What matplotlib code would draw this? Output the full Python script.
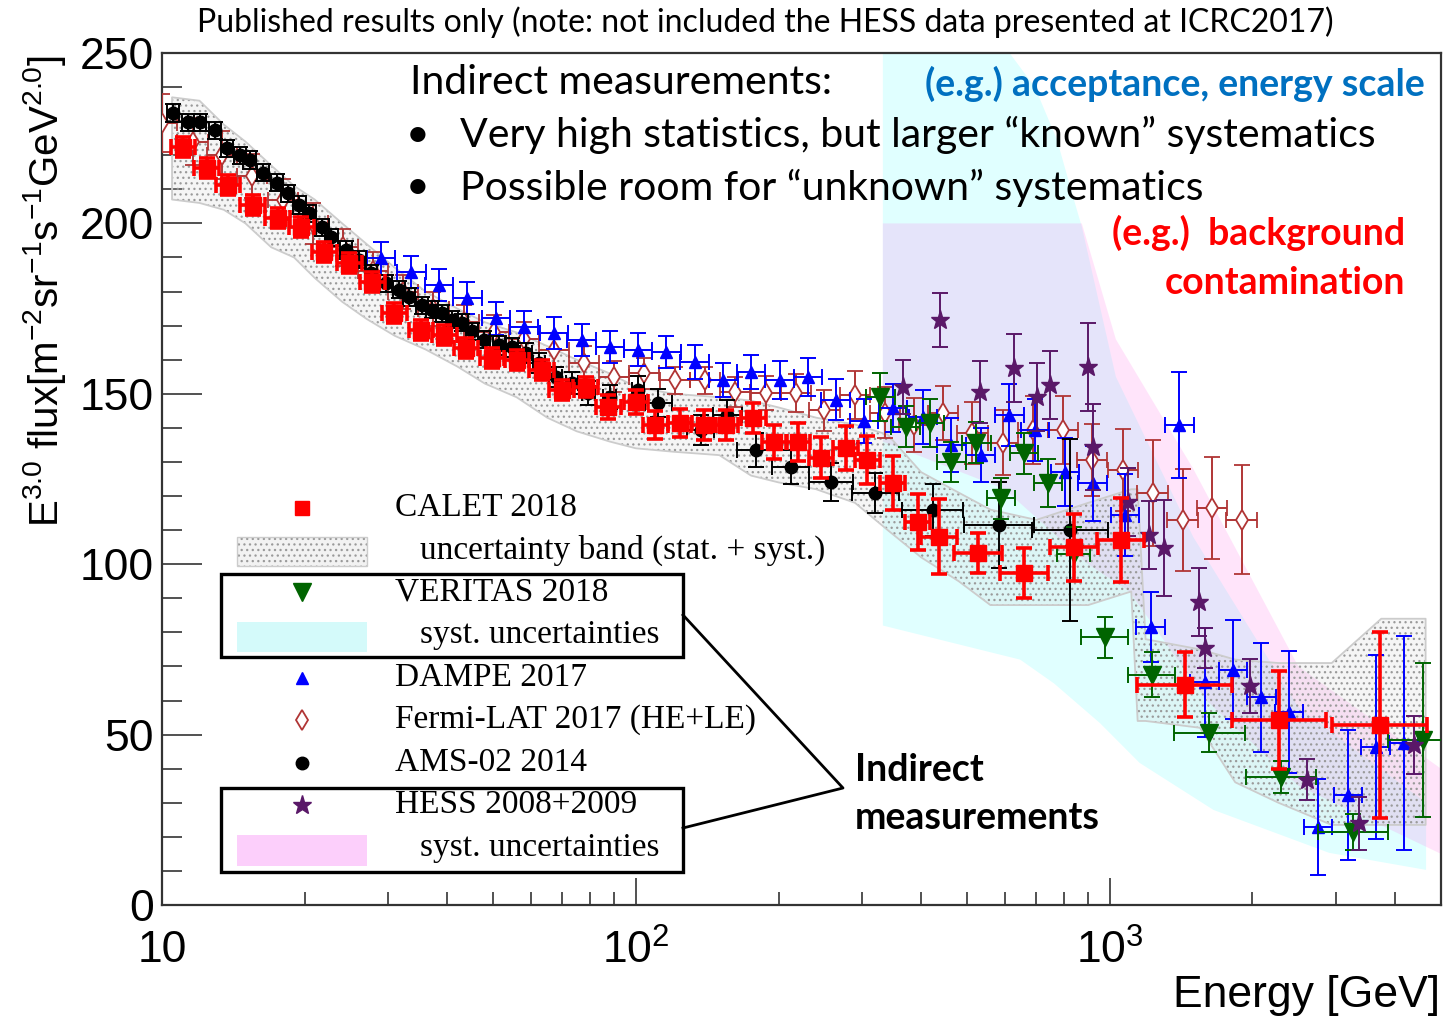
import numpy as np
import matplotlib
matplotlib.use("Agg")
import matplotlib.pyplot as plt
from matplotlib.patches import Rectangle
from matplotlib.lines import Line2D
from matplotlib.ticker import FixedLocator, FixedFormatter, NullFormatter, MultipleLocator

# Canvas size in pixels (dpi = 100)
W, H = 1448, 1018

plt.rcParams['font.family'] = ['Liberation Sans', 'DejaVu Sans']
plt.rcParams['mathtext.fontset'] = 'custom'
plt.rcParams['mathtext.rm'] = 'Liberation Sans'
plt.rcParams['mathtext.it'] = 'Liberation Sans:italic'
plt.rcParams['hatch.linewidth'] = 0.9

SLIDE_FONT = ['Lato', 'DejaVu Sans']
ROOT_FONT = ['Liberation Serif', 'DejaVu Serif']


def fx(px):
    return px / W


def fy(py):
    return 1.0 - py / H


# ---------------- data: energy [GeV], E^3 x flux ----------------
calet_e = [11.07, 12.43, 13.77, 15.53, 17.53, 19.68, 22.0, 24.85, 27.78, 30.9,
           35.2, 39.4, 43.8, 49.7, 56.1, 63.3, 69.7, 78.3, 87.5, 100,
           110, 124, 139, 155, 177, 196, 220, 246, 277, 308,
           348, 393, 437, 527, 659, 840, 1055, 1439, 2275, 3714]
calet_f = [222.4, 216.3, 211.3, 205.4, 201.6, 198.9, 191.6, 188.4, 182.8, 173.7,
           168.7, 167.3, 163.4, 160.5, 159.9, 157.0, 151.1, 152.0, 146.1, 147.6,
           140.8, 141.4, 140.8, 140.8, 142.9, 135.9, 135.9, 131.2, 134.1, 130.6,
           123.8, 112.4, 108.0, 103.3, 97.4, 105.0, 107.1, 64.6, 54.3, 52.8]
calet_ferr = [3, 3, 3, 3, 3, 3, 3, 3, 3, 3,
              3, 3, 3, 3, 3, 3, 3, 3, 3.5, 3.5,
              4.2, 4.2, 4.3, 4.4, 4.5, 5, 5.5, 6, 6.5, 7,
              8, 8.3, 11, 6, 7.3, 9.8, 12.2, 9.5, 14.4, 27.4]
calet_dex = [0.026] * 32 + [0.038, 0.05, 0.05, 0.05, 0.05, 0.1, 0.1, 0.1]

# CALET uncertainty band (stat. + syst.)
band_e = [10.5, 12, 13.5, 15, 17, 19, 21, 24, 27, 31,
          36, 42, 48, 56, 65, 75, 88, 100, 120, 150,
          175, 200, 240, 290, 340, 400, 480, 560, 700, 900,
          1110, 1145, 1190, 1550, 1840, 2270, 2940, 3740, 4640]
band_hi = [237, 236, 229, 224, 217, 211, 207, 200, 194, 187,
           180, 175, 171, 168, 164, 160, 156, 152, 150, 149,
           148, 146, 143, 141, 138, 127, 121, 116, 113, 118,
           122, 122, 78, 75, 72, 71, 71, 84, 84]
band_lo = [207, 206, 204, 200, 193, 190, 184, 177, 172, 167,
           163, 158, 153, 149, 143, 139, 136, 134, 133, 132,
           126, 124, 122, 118, 110, 102, 95, 88, 88, 88,
           92, 54, 54, 52, 36, 30, 23.5, 23.5, 23.5]

ams_e = [10.55, 11.34, 12.02, 12.93, 13.70, 14.59, 15.31, 16.31, 17.46, 18.41,
         19.50, 20.47, 21.81, 22.78, 24.49, 26.09, 27.65, 29.72, 31.66, 33.23,
         35.40, 37.1, 38.97, 40.9, 42.96, 45.1, 47.8, 51.4, 54.7, 58.6,
         62.4, 67.7, 73.2, 79.4, 88.0, 101, 111.5, 137, 156, 179,
         212, 258, 320, 423, 585, 824]
ams_f = [232.4, 229.7, 229.7, 227.4, 222.1, 220.0, 218.6, 214.8, 211.9, 208.9,
         205.4, 203.0, 198.9, 196.0, 192.2, 189.3, 185.4, 182.5, 180.5, 178.4,
         176.0, 174.6, 173.7, 171.7, 170.8, 168.3, 165.8, 164.3, 163.7, 162.0,
         159.0, 154.9, 153.2, 150.2, 149.0, 151.1, 147.3, 139.4, 143.8, 133.5,
         128.5, 124.1, 120.9, 115.9, 111.5, 110.0]
ams_ferr = [2.5, 2.5, 2.5, 2.5, 2.5, 2.5, 2.5, 2.5, 2.5, 2.5,
            2.5, 2.5, 2.5, 2.5, 2.5, 2.5, 2.5, 2.5, 2.5, 2.5,
            2.5, 2.5, 2.5, 2.5, 2.5, 2.5, 2.5, 2.8, 2.8, 3,
            3, 3, 3.2, 3.5, 3.5, 4, 4, 4.5, 4.5, 5,
            5, 5.5, 6, 7.5, 12.5, 26.7]
ams_dex = [0.013] * 36 + [0.028, 0.028, 0.03, 0.039, 0.04, 0.046, 0.05, 0.064, 0.074, 0.08]

dampe_e = [29.0, 33.6, 38.4, 44.1, 50.7, 58.0, 67.1, 76.8, 88.3, 101,
           116, 133, 153, 175, 201, 231, 264, 303, 349, 404,
           463, 534, 614, 696, 804, 920, 1076, 1220, 1403, 1585,
           1820, 2090, 2390, 2750, 3184, 3640, 4170]
dampe_f = [189.8, 185.7, 181.9, 178.1, 172.2, 169.6, 167.8, 165.8, 163.7, 162.9,
           162.3, 159.3, 154.0, 156.4, 154.0, 154.9, 148.2, 142.0, 145.8, 143.2,
           135.0, 132.0, 143.8, 139.4, 127.0, 123.8, 114.4, 81.6, 140.8, 65.4,
           69.0, 61.0, 56.6, 22.9, 32.3, 46.4, 47.5]
dampe_ferr = [4.8, 4.8, 4.8, 4.8, 4.8, 4.8, 4.8, 4.8, 4.8, 4.8,
              4.8, 5, 5, 5, 5.5, 5.5, 6, 6.5, 7, 8,
              8, 8, 9, 9, 10, 11, 12, 10.3, 15.6, 16,
              14.5, 16, 18, 14, 19, 27, 31.5]
dampe_dex = [0.03] * 37

fermi_e = [10.0, 11.6, 13.4, 15.5, 18.0, 20.8, 24.1, 27.9, 32.3, 37.4,
           43.3, 50.1, 58.0, 67.1, 77.7, 90.0, 104, 121, 140, 162,
           188, 218, 250, 290, 335, 387, 444, 513, 596, 689,
           797, 916, 1065, 1231, 1425, 1642, 1897]
fermi_f = [229.5, 224, 220, 214, 207, 200, 193, 186, 180, 175,
           171, 168, 166, 162.9, 159, 155, 156, 154, 154, 150.5,
           150.2, 150.2, 145.2, 149.6, 144.5, 140.8, 144.4, 138.5, 135.6, 139.4,
           139.4, 130.6, 127.6, 120.9, 113.0, 116.5, 113.0]
fermi_ferr = [8.5, 7, 7, 6.5, 6, 6, 5.5, 5.5, 5, 5,
              5, 5, 5, 5, 5, 4.5, 4.5, 4, 4, 4.5,
              5, 5.5, 6, 7, 7.5, 8, 8, 9, 9.5, 10,
              10, 10.5, 12, 15.5, 15, 15, 16]
fermi_dex = [0.032] * 37

veritas_e = [328, 371, 418, 463, 523, 590, 659, 741, 840, 975, 1225, 1623, 2300, 3262, 4590]
veritas_f = [149, 140.3, 141.4, 130, 135.6, 119.4, 132.6, 123.8, 103, 78.6, 67.5, 50.5, 37.6, 21.4, 48.4]
veritas_ferr = [7, 6, 7, 6, 6, 6, 6, 7, 8, 6, 6.6, 5.7, 4.7, 5.4, 22.7]
veritas_dex = [0.03, 0.03, 0.03, 0.03, 0.03, 0.03, 0.03, 0.03, 0.035, 0.05,
               0.05, 0.075, 0.074, 0.074, 0.074]

# VERITAS systematic band (upper and lower edges)
veritas_up_e = [332, 607, 695, 774, 840, 873, 1030, 1500, 2500, 4650]
veritas_up_f = [262, 251, 240, 224.5, 207, 199, 155, 108, 58, 30]
veritas_lo_e = [332, 647, 763, 953, 1156, 1655, 2904, 4650]
veritas_lo_f = [82, 72, 65, 53.4, 41.7, 27.9, 15.3, 10.3]

hess_e = [366, 439, 533, 629, 703, 748, 899, 921, 1091, 1209,
          1300, 1540, 1590, 1974, 2607, 3356, 4375]
hess_f = [152, 171.7, 150.5, 157.6, 149, 152.6, 157.9, 134.4, 118.2, 108.6,
          104.8, 88.9, 75.4, 64.3, 36.7, 24.0, 47.0]
hess_ferr = [8, 8, 9, 10, 10, 10, 13, 12.7, 10, 10,
             14, 10, 6, 8, 6, 7.8, 8.5]

# HESS systematic band (upper and lower edges)
hess_up_e = [332, 873, 1030, 1500, 2500, 5000]
hess_up_f = [200, 200, 166, 128, 70, 40]
hess_lo_e = [332, 600, 900, 1100, 1600, 2500, 5000]
hess_lo_f = [136, 122, 100, 92, 60, 35, 15]


def dex_err(e, d):
    e = np.asarray(e, float)
    d = np.asarray(d, float)
    return np.vstack([e - e / 10 ** d, e * 10 ** d - e])


fig = plt.figure(figsize=(W / 100, H / 100), dpi=100)
ax = fig.add_axes([fx(162), fy(905), fx(1441) - fx(162), fy(53) - fy(905)])
ax.set_xscale('log')

# systematic bands
ax.fill(np.r_[veritas_up_e, veritas_lo_e[::-1]], np.r_[veritas_up_f, veritas_lo_f[::-1]],
        color='#e0ffff', lw=0, zorder=1)
ax.fill(np.r_[hess_up_e, hess_lo_e[::-1]], np.r_[hess_up_f, hess_lo_f[::-1]],
        color='#ff64e6', alpha=0.17, lw=0, zorder=1.5)

# CALET stat+syst band: faint fill, stipple, outline
ax.fill_between(band_e, band_lo, band_hi, facecolor=(0.8, 0.8, 0.8, 0.18),
                edgecolor='none', zorder=2)
ax.fill_between(band_e, band_lo, band_hi, facecolor='none', edgecolor='#9a9a9a',
                hatch='...', linewidth=0, zorder=2.1)
ax.fill_between(band_e, band_lo, band_hi, facecolor='none', edgecolor='#cccccc',
                linewidth=1.3, zorder=2.2)

thin = dict(linestyle='none', elinewidth=1.4, capthick=1.4, capsize=6)

ax.errorbar(fermi_e, fermi_f, yerr=fermi_ferr, xerr=dex_err(fermi_e, fermi_dex),
            fmt='d', ms=10, mfc='white', mec='#b03535', mew=1.3, color='#b03535',
            zorder=4, **thin)
ax.errorbar(dampe_e, dampe_f, yerr=dampe_ferr, xerr=dex_err(dampe_e, dampe_dex),
            fmt='^', ms=9, color='#0000ff', zorder=5, **thin)
ax.errorbar(ams_e, ams_f, yerr=ams_ferr, xerr=dex_err(ams_e, ams_dex),
            fmt='o', ms=9, color='black', zorder=6, **thin)
ax.errorbar(veritas_e, veritas_f, yerr=veritas_ferr, xerr=dex_err(veritas_e, veritas_dex),
            fmt='v', ms=13, color='#006400', zorder=7, **thin)
ax.errorbar(hess_e, hess_f, yerr=hess_ferr, fmt='*', ms=14, color='#5a1868',
            zorder=8, **thin)
ax.errorbar(calet_e, calet_f, yerr=calet_ferr, xerr=dex_err(calet_e, calet_dex),
            fmt='s', ms=11, color='#ff0000', linestyle='none', elinewidth=2.6,
            capthick=2.6, capsize=6, zorder=9)

ax.set_xlim(10, 5000)
ax.set_ylim(0, 250)

ax.xaxis.set_major_locator(FixedLocator([10, 100, 1000]))
ax.xaxis.set_major_formatter(FixedFormatter(['10', r'$10^{2}$', r'$10^{3}$']))
ax.xaxis.set_minor_locator(FixedLocator([20, 30, 40, 50, 60, 70, 80, 90,
                                         200, 300, 400, 500, 600, 700, 800, 900,
                                         2000, 3000, 4000]))
ax.xaxis.set_minor_formatter(NullFormatter())
ax.yaxis.set_major_locator(MultipleLocator(50))
ax.yaxis.set_minor_locator(MultipleLocator(10))
ax.tick_params(axis='both', which='both', direction='in', top=False, right=False,
               color='#222222')
ax.tick_params(axis='x', which='major', length=19.5, width=1.1, labelsize=32, pad=18)
ax.tick_params(axis='x', which='minor', length=9.5, width=1.1)
ax.tick_params(axis='y', which='major', length=29, width=1.1, labelsize=32, pad=6)
ax.tick_params(axis='y', which='minor', length=14.5, width=1.1)
for s in ax.spines.values():
    s.set_linewidth(1.6)
    s.set_color('#333333')

fig.text(fx(45), fy(55), r'E$^{3.0}$ flux[m$^{-2}$sr$^{-1}$s$^{-1}$GeV$^{2.0}$]',
         rotation=90, ha='center', va='top', fontsize=29)
fig.text(fx(1440), fy(995), 'Energy [GeV]', ha='right', va='center', fontsize=32)

# slide annotations
fig.text(fx(765), fy(22), 'Published results only (note: not included the HESS data presented at ICRC2017)',
         ha='center', va='center', fontsize=23, family=SLIDE_FONT)
fig.text(fx(410), fy(82), 'Indirect measurements:', ha='left', va='center',
         fontsize=29.5, family=SLIDE_FONT)
for py, line in [(135, 'Very high statistics, but larger \u201cknown\u201d systematics'),
                 (188, 'Possible room for \u201cunknown\u201d systematics')]:
    fig.text(fx(418), fy(py), '\u2022', ha='center', va='center', fontsize=29.5,
             family=SLIDE_FONT)
    fig.text(fx(460), fy(py), line, ha='left', va='center', fontsize=29.5,
             family=SLIDE_FONT)
fig.text(fx(1425), fy(84), '(e.g.) acceptance, energy scale', ha='right', va='center',
         fontsize=27, fontweight='bold', color='#0070c0', family=SLIDE_FONT)
fig.text(fx(1405), fy(233), '(e.g.)  background', ha='right', va='center',
         fontsize=27, fontweight='bold', color='#ff0000', family=SLIDE_FONT)
fig.text(fx(1405), fy(283), 'contamination', ha='right', va='center',
         fontsize=27, fontweight='bold', color='#ff0000', family=SLIDE_FONT)
fig.text(fx(855), fy(770), 'Indirect', ha='left', va='center',
         fontsize=27, fontweight='bold', family=SLIDE_FONT)
fig.text(fx(855), fy(818), 'measurements', ha='left', va='center',
         fontsize=27, fontweight='bold', family=SLIDE_FONT)

# legend
legend_rows = [
    (508, 395, 'CALET 2018', dict(marker='s', color='#ff0000', ms=10)),
    (550, 420, 'uncertainty band (stat. + syst.)', None),
    (592, 395, 'VERITAS 2018', dict(marker='v', color='#006400', ms=13)),
    (635, 420, 'syst. uncertainties', None),
    (678, 395, 'DAMPE 2017', dict(marker='^', color='#0000ff', ms=8)),
    (720, 395, 'Fermi-LAT 2017 (HE+LE)', dict(marker='d', color='#b03535', ms=10,
                                              mfc='white', mew=1.3)),
    (763, 395, 'AMS-02 2014', dict(marker='o', color='black', ms=9)),
    (805, 395, 'HESS 2008+2009', dict(marker='*', color='#5a1868', ms=14)),
    (848, 420, 'syst. uncertainties', None),
]
for py, tx, label, mk in legend_rows:
    fig.text(fx(tx), fy(py), label, ha='left', va='center', fontsize=24,
             family=ROOT_FONT)
    if mk is not None:
        fig.add_artist(Line2D([fx(302)], [fy(py)], linestyle='none',
                              transform=fig.transFigure, **mk))

sw_w = fx(367) - fx(237)
fig.add_artist(Rectangle((fx(237), fy(566)), sw_w, fy(537) - fy(566),
                         transform=fig.transFigure, facecolor='#f2f2f2',
                         edgecolor='#9a9a9a', hatch='...', linewidth=0))
fig.add_artist(Rectangle((fx(237), fy(566)), sw_w, fy(537) - fy(566),
                         transform=fig.transFigure, facecolor='none',
                         edgecolor='#cccccc', linewidth=1.0))
fig.add_artist(Rectangle((fx(237), fy(652)), sw_w, fy(622) - fy(652),
                         transform=fig.transFigure, facecolor='#d4fafa', linewidth=0))
fig.add_artist(Rectangle((fx(237), fy(866)), sw_w, fy(835) - fy(866),
                         transform=fig.transFigure, facecolor='#fccffb', linewidth=0))

# boxes around the indirect experiments and the pointer lines
for top, bot in [(574, 657), (788, 872)]:
    fig.add_artist(Rectangle((fx(221), fy(bot)), fx(683) - fx(221), fy(top) - fy(bot),
                             transform=fig.transFigure, fill=False,
                             edgecolor='black', linewidth=2.4))
fig.add_artist(Line2D([fx(683), fx(843), fx(683)], [fy(615), fy(788), fy(828)],
                      transform=fig.transFigure, color='black', linewidth=2.0))

fig.savefig('out.png', dpi=100)
